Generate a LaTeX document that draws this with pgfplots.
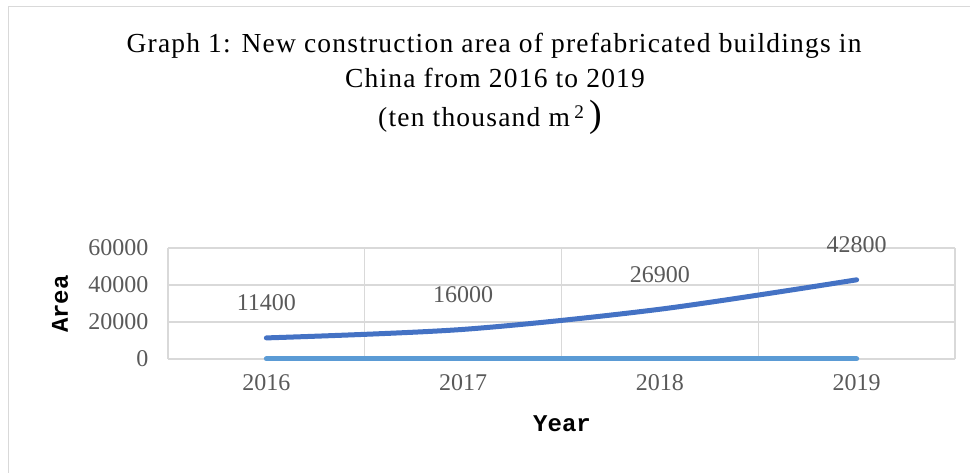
\documentclass[border=0pt]{standalone}
\usepackage{fontspec}
\setmainfont{Liberation Serif}
\newfontfamily\titlefont[LetterSpace=4.4]{Liberation Serif}
\newfontfamily\labelmono{Liberation Mono}
\usepackage{pgfplots}
\pgfplotsset{compat=1.18}
\definecolor{dblue}{HTML}{4472C4}
\definecolor{lblue}{HTML}{5B9BD5}
\definecolor{gridc}{HTML}{D9D9D9}
\definecolor{tickc}{HTML}{595959}
\begin{document}
\begin{tikzpicture}
\path[use as bounding box] (0bp,0bp) rectangle (970bp,473bp);
\draw[gridc, line width=1.5bp] (8.5bp,0bp) -- (8.5bp,466.5bp) -- (970bp,466.5bp);
\node[anchor=base, font=\titlefont\fontsize{27.5bp}{30bp}\selectfont] at (494bp,420bp) {Graph 1: New construction area of prefabricated buildings in};
\node[anchor=base, font=\titlefont\fontsize{27.5bp}{30bp}\selectfont] at (495bp,385bp) {China from 2016 to 2019};
\node[anchor=base, font=\titlefont\fontsize{27.5bp}{30bp}\selectfont] at (490bp,346bp) {(ten thousand m\,\textsuperscript{2}\,{\fontsize{38bp}{40bp}\selectfont)}};
\begin{axis}[
  at={(168bp,114bp)}, anchor=south west,
  scale only axis, width=787bp, height=111bp,
  xmin=-0.5, xmax=3.5, ymin=0, ymax=60000,
  clip=false,
  axis line style={draw=none},
  major tick length=0pt,
  xtick={0,1,2,3},
  xticklabels={2016,2017,2018,2019},
  extra x ticks={-0.5,0.5,1.5,2.5,3.5},
  extra x tick labels={},
  extra x tick style={grid=major},
  ytick={0,20000,40000,60000},
  ymajorgrids,
  grid style={gridc, line width=1.3bp},
  scaled y ticks=false,
  /pgf/number format/1000 sep={},
  /pgf/number format/assume math mode=true,
  tick label style={font=\fontsize{24bp}{28bp}\selectfont, text=tickc},
  yticklabel style={xshift=-16bp},
  xticklabel style={yshift=-12bp},
  nodes near coords style={font=\fontsize{24bp}{28bp}\selectfont, text=tickc, anchor=center, yshift=35bp},
]
\addplot[dblue, line width=5bp, line cap=round, smooth, nodes near coords, point meta=explicit symbolic] coordinates {(0,11400)[11400] (1,16000)[16000] (2,26900)[26900] (3,42800)[42800]};
\addplot[lblue, line width=5bp, line cap=round] coordinates {(0,0) (1,0) (2,0) (3,0)};
\end{axis}
\node[anchor=base, font=\labelmono\bfseries\fontsize{24bp}{28bp}\selectfont] at (562bp,41bp) {Year};
\node[rotate=90, font=\labelmono\bfseries\fontsize{24bp}{28bp}\selectfont] at (60bp,169bp) {Area};
\end{tikzpicture}
\end{document}
